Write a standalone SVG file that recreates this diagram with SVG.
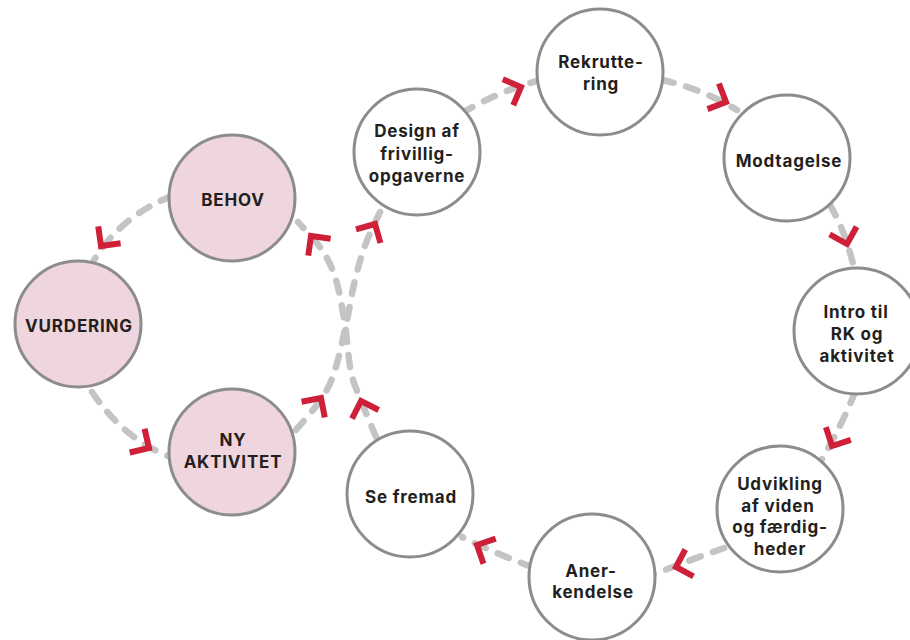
<svg xmlns="http://www.w3.org/2000/svg" xmlns:xlink="http://www.w3.org/1999/xlink" width="910" height="640" viewBox="0 0 910 640">
<style>
.link{fill:none;stroke:#c4c4c4;stroke-width:6.5;stroke-dasharray:12 13;stroke-linecap:round}
.node{stroke:#8c8c8c;stroke-width:3}
.pink{fill:#efd5de}
.white{fill:#ffffff}
.lbl{font-family:Inter,"Liberation Sans",sans-serif;font-weight:700;font-size:17px;letter-spacing:0.8px;fill:#231f20;text-anchor:middle}
.chev{fill:none;stroke:#cf2039;stroke-width:6;stroke-linejoin:miter;stroke-linecap:butt}
</style>
<defs>
<path id="chev" class="chev" d="M -14 -14 L 0 0 L -14 14"/>
</defs>
<rect width="910" height="640" fill="#ffffff"/>
<g id="connectors">
<path class="link" d="M 172 196 Q 121 216 94 260"/>
<path class="link" d="M 92 392 Q 123 438 168 456"/>
<path class="link" d="M 296 430 C 300.3 424.7 315.5 408 322 398 C 328.5 388 331 382.2 335 370 C 339 357.8 342.7 340 346 325 C 349.3 310 351.7 293.7 355 280 C 358.3 266.3 361.5 255 366 243 C 370.5 231 379.3 213.8 382 208"/>
<path class="link" d="M 376 437 C 373.7 431.3 366.2 413.8 362 403 C 357.8 392.2 353.8 385 351 372 C 348.2 359 347.5 340.3 345 325 C 342.5 309.7 339.8 292.5 336 280 C 332.2 267.5 328.3 259.7 322 250 C 315.7 240.3 302 226.7 298 222"/>
<path class="link" d="M 462 113 Q 497 92 540 80"/>
<path class="link" d="M 662 80 Q 700 88 737 110"/>
<path class="link" d="M 830 205 Q 846 232 855 272"/>
<path class="link" d="M 855 392 Q 842 425 818 466"/>
<path class="link" d="M 724 548 Q 690 560 652 575"/>
<path class="link" d="M 532 567 Q 497 554 462 537"/>
<use xlink:href="#chev" transform="translate(101 246) rotate(127)"/>
<use xlink:href="#chev" transform="translate(149 448) rotate(32)"/>
<use xlink:href="#chev" transform="translate(321 398) rotate(-56)"/>
<use xlink:href="#chev" transform="translate(375 224) rotate(-61)"/>
<use xlink:href="#chev" transform="translate(361 401) rotate(-108)"/>
<use xlink:href="#chev" transform="translate(311 236) rotate(-127)"/>
<use xlink:href="#chev" transform="translate(521 87) rotate(-22)"/>
<use xlink:href="#chev" transform="translate(726 102) rotate(24)"/>
<use xlink:href="#chev" transform="translate(847 244) rotate(74)"/>
<use xlink:href="#chev" transform="translate(832 446) rotate(117)"/>
<use xlink:href="#chev" transform="translate(676 567) rotate(163)"/>
<use xlink:href="#chev" transform="translate(477 545) rotate(206)"/>
</g>
<g id="behov"><circle class="node pink" cx="232" cy="198" r="63"/><text class="lbl" x="233" y="205.5">BEHOV</text></g>
<g id="vurdering"><circle class="node pink" cx="78" cy="324" r="63"/><text class="lbl" x="79" y="331.5">VURDERING</text></g>
<g id="ny-aktivitet"><circle class="node pink" cx="232" cy="452" r="63"/><text class="lbl" x="233" y="446">NY</text><text class="lbl" x="233" y="467.5">AKTIVITET</text></g>
<g id="design"><circle class="node white" cx="417" cy="152" r="63"/><text class="lbl" x="417" y="137">Design af</text><text class="lbl" x="417" y="159.5">frivillig-</text><text class="lbl" x="417" y="182">opgaverne</text></g>
<g id="rekruttering"><circle class="node white" cx="600" cy="72" r="63"/><text class="lbl" x="601" y="68">Rekrutte-</text><text class="lbl" x="601" y="89.5">ring</text></g>
<g id="modtagelse"><circle class="node white" cx="787" cy="158" r="63"/><text class="lbl" x="789" y="166.5">Modtagelse</text></g>
<g id="intro"><circle class="node white" cx="857" cy="331" r="63"/><text class="lbl" x="856" y="317.5">Intro til</text><text class="lbl" x="857" y="339.5">RK og</text><text class="lbl" x="857" y="361.5">aktivitet</text></g>
<g id="udvikling"><circle class="node white" cx="780" cy="509" r="63"/><text class="lbl" x="780" y="490">Udvikling</text><text class="lbl" x="778" y="511.5">af viden</text><text class="lbl" x="780" y="533">og færdig-</text><text class="lbl" x="780" y="555">heder</text></g>
<g id="anerkendelse"><circle class="node white" cx="592" cy="577" r="63"/><text class="lbl" x="591" y="576.5">Aner-</text><text class="lbl" x="593" y="597.5">kendelse</text></g>
<g id="se-fremad"><circle class="node white" cx="410" cy="494" r="63"/><text class="lbl" x="411" y="503">Se fremad</text></g>
</svg>
